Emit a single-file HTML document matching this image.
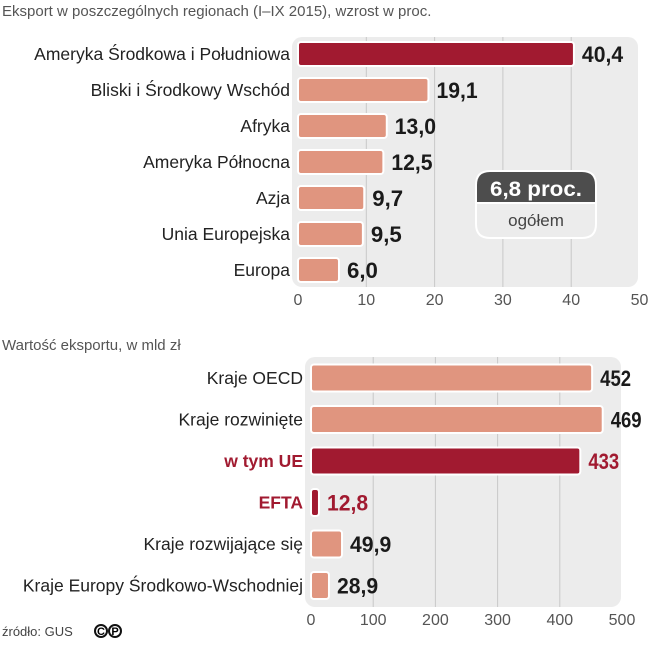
<!DOCTYPE html>
<html><head><meta charset="utf-8"><style>
body{margin:0;background:#fff;width:650px;height:640px;overflow:hidden;font-family:"Liberation Sans",sans-serif;}
svg text{font-family:"Liberation Sans",sans-serif;}
.lab{font-size:17.5px;fill:#222;text-anchor:end}
.val{font-weight:bold;font-size:22px;fill:#1a1a1a}
.tick{font-size:16px;fill:#555;text-anchor:middle}
</style></head><body>
<svg id="c" width="650" height="640" xmlns="http://www.w3.org/2000/svg">
<text x="2" y="16" font-size="15" fill="#555">Eksport w poszczególnych regionach (I–IX 2015), wzrost w proc.</text>
<rect x="292" y="37" width="346" height="250" rx="10" fill="#ececec"/>
<text x="2" y="350" font-size="15" fill="#555">Wartość eksportu, w mld zł</text>
<rect x="305" y="357" width="316" height="250" rx="10" fill="#ececec"/>
<g id="g1"></g><g id="g2"></g>
<g>
<path d="M476 185 Q476 171 490 171 L582 171 Q596 171 596 185 L596 203 L476 203 Z" fill="#4d4d4d" stroke="#fff" stroke-width="2"/>
<path d="M476 203 L596 203 L596 224 Q596 238 582 238 L490 238 Q476 238 476 224 Z" fill="#ececec" stroke="#fff" stroke-width="2"/>
<text x="536" y="196" text-anchor="middle" fill="#fff" font-weight="bold" font-size="21" textLength="92" lengthAdjust="spacingAndGlyphs">6,8 proc.</text>
<text x="536" y="226" text-anchor="middle" fill="#444" font-size="17">ogółem</text>
</g>
<text x="2" y="636" font-size="13" fill="#444">źródło: GUS</text>
<g font-size="11" font-weight="bold" text-anchor="middle">
<circle cx="101" cy="631" r="6" fill="none" stroke="#111" stroke-width="2"/><text x="101" y="635">C</text>
<circle cx="115" cy="631" r="6" fill="none" stroke="#111" stroke-width="2"/><text x="115" y="635">P</text>
</g>
</svg>
<script>
const cats1=["Ameryka Środkowa i Południowa","Bliski i Środkowy Wschód","Afryka","Ameryka Północna","Azja","Unia Europejska","Europa"];
const vals1=[40.4,19.1,13.0,12.5,9.7,9.5,6.0];
const labels1=["40,4","19,1","13,0","12,5","9,7","9,5","6,0"];
const ticks1=[0,10,20,30,40,50];
const hl1=[true,false,false,false,false,false,false];
const cats2=["Kraje OECD","Kraje rozwinięte","w tym UE","EFTA","Kraje rozwijające się","Kraje Europy Środkowo-Wschodniej"];
const vals2=[452,469,433,12.8,49.9,28.9];
const labels2=["452","469","433","12,8","49,9","28,9"];
const ticks2=[0,100,200,300,400,500];
const hl2=[false,false,true,true,false,false];
const NS="http://www.w3.org/2000/svg";
function mk(p,t,a){const e=document.createElementNS(NS,t);for(const k in a)e.setAttribute(k,a[k]);p.appendChild(e);return e;}
function draw(g,cats,vals,labels,ticks,hl,x0,scale,y0,step,bh,gy0,gy1,ty,pre){
  const x=v=>x0+v*scale, y=i=>y0+i*step;
  ticks.forEach(t=>{
    if(t>0&&t<ticks[ticks.length-1]){const l=mk(g,"line",{x1:x(t),x2:x(t),y1:gy0,y2:gy1,stroke:"#c8c8c8","stroke-width":1});
    
    }
    const tx=mk(g,"text",{x:x(t),y:ty,class:"tick"});tx.textContent=t;
    
    
  });
  cats.forEach((c,i)=>{
    const red=hl[i]&&pre==="bottom";
    const col=hl[i]?"#a11a30":"#e0957f";
    const w=Math.max(vals[i]*scale,3);
    const r=mk(g,"rect",{x:x0,y:y(i)-bh/2,width:w,height:bh,rx:3,fill:col,stroke:"#fff","stroke-width":2});
    
    
    const lb=mk(g,"text",{x:x0-8,y:y(i)+6,class:"lab"});lb.textContent=c;
    if(red){lb.style.fill="#a11a30";lb.style.fontWeight="bold";}
    
    
    const s=labels[i];
    const v=mk(g,"text",{x:x0+w+8,y:y(i)+8,class:"val",textLength:s.length*10.3,lengthAdjust:"spacingAndGlyphs"});v.textContent=s;
    if(red)v.style.fill="#a11a30";
    
    
  });
}
draw(document.getElementById("g1"),cats1,vals1,labels1,ticks1,hl1,298,6.83,54,36,24,37,287,305,"top");
draw(document.getElementById("g2"),cats2,vals2,labels2,ticks2,hl2,311,0.622,378,41.5,27,357,607,625,"bottom");
</script>
</body></html>
